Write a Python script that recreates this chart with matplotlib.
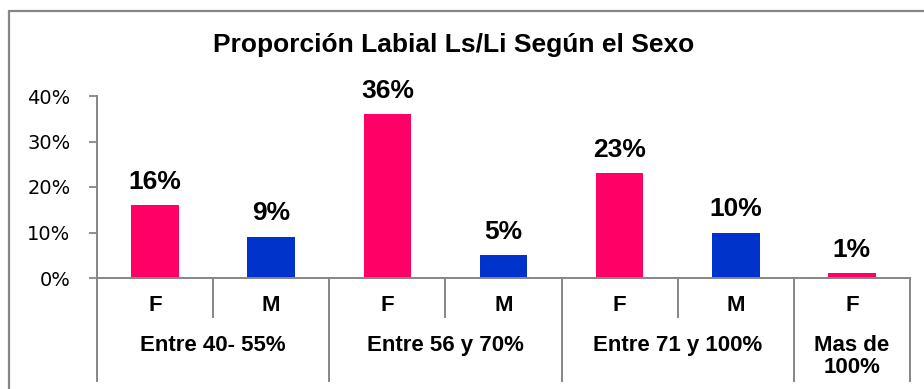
import matplotlib
matplotlib.use('Agg')
import matplotlib.pyplot as plt
import matplotlib.patches as mpatches
from matplotlib.ticker import PercentFormatter

plt.rcParams['font.family'] = ['Liberation Sans', 'DejaVu Sans']

# bar data: sex per bar and its percentage
sexes = ['F', 'M', 'F', 'M', 'F', 'M', 'F']
values = [16, 9, 36, 5, 23, 10, 1]
groups = ['Entre 40- 55%', 'Entre 56 y 70%', 'Entre 71 y 100%', 'Mas de\n100%']
group_sizes = [2, 2, 2, 1]

colors = {'F': '#FF0066', 'M': '#0033CC'}
grey = '#868686'

fig = plt.figure(figsize=(9.24, 3.89), dpi=100)
ax = fig.add_axes([97 / 924, 1 - 278 / 389, 813 / 924, 182 / 389])

xs = list(range(len(values)))
ax.bar(xs, values, width=0.41, color=[colors[s] for s in sexes], zorder=2)
for x, v in zip(xs, values):
    ax.annotate(f'{v}%', (x, v), xytext=(0, 12), textcoords='offset points',
                ha='center', va='baseline', fontsize=19, fontweight='bold')

ax.set_xlim(-0.5, len(values) - 0.5)
ax.set_ylim(0, 40)
ax.set_yticks([0, 10, 20, 30, 40])
ax.yaxis.set_major_formatter(PercentFormatter(decimals=0))
ax.tick_params(axis='y', direction='out', length=6, width=1.3, color=grey,
               labelsize=14, pad=13)
for lbl in ax.get_yticklabels():
    lbl.set_family('DejaVu Sans')
ax.set_xticks([])
for side in ['top', 'right']:
    ax.spines[side].set_visible(False)
for side in ['left', 'bottom']:
    ax.spines[side].set_color(grey)
    ax.spines[side].set_linewidth(1.4)

# two-level category axis drawn below the plot
trans = ax.get_xaxis_transform()
for x, s in zip(xs, sexes):
    ax.text(x, -0.15, s, transform=trans, ha='center', va='center',
            fontsize=16, fontweight='bold')

start = 0
bounds = [-0.5]
for g, n in zip(groups, group_sizes):
    center = start + (n - 1) / 2
    ax.text(center, -0.315, g, transform=trans, ha='center', va='top',
            fontsize=16, fontweight='bold', linespacing=1.05)
    for k in range(1, n):
        ax.plot([start + k - 0.5] * 2, [0, -0.214], transform=trans,
                color=grey, lw=1.4, clip_on=False)
    start += n
    bounds.append(start - 0.5)
for b in bounds:
    ax.plot([b, b], [0, -0.566], transform=trans, color=grey, lw=1.4,
            clip_on=False)

fig.text(454 / 924, 1 - 52 / 389, 'Proporción Labial Ls/Li Según el Sexo',
         ha='center', va='baseline', fontsize=19, fontweight='bold')

# outer chart frame
fig.patches.append(mpatches.Rectangle((8.5 / 924, -0.1), 1.2, 1.1 - 11.5 / 389,
                                      transform=fig.transFigure, fill=False,
                                      edgecolor=grey, lw=1.6))

fig.savefig('out.png', dpi=100)
